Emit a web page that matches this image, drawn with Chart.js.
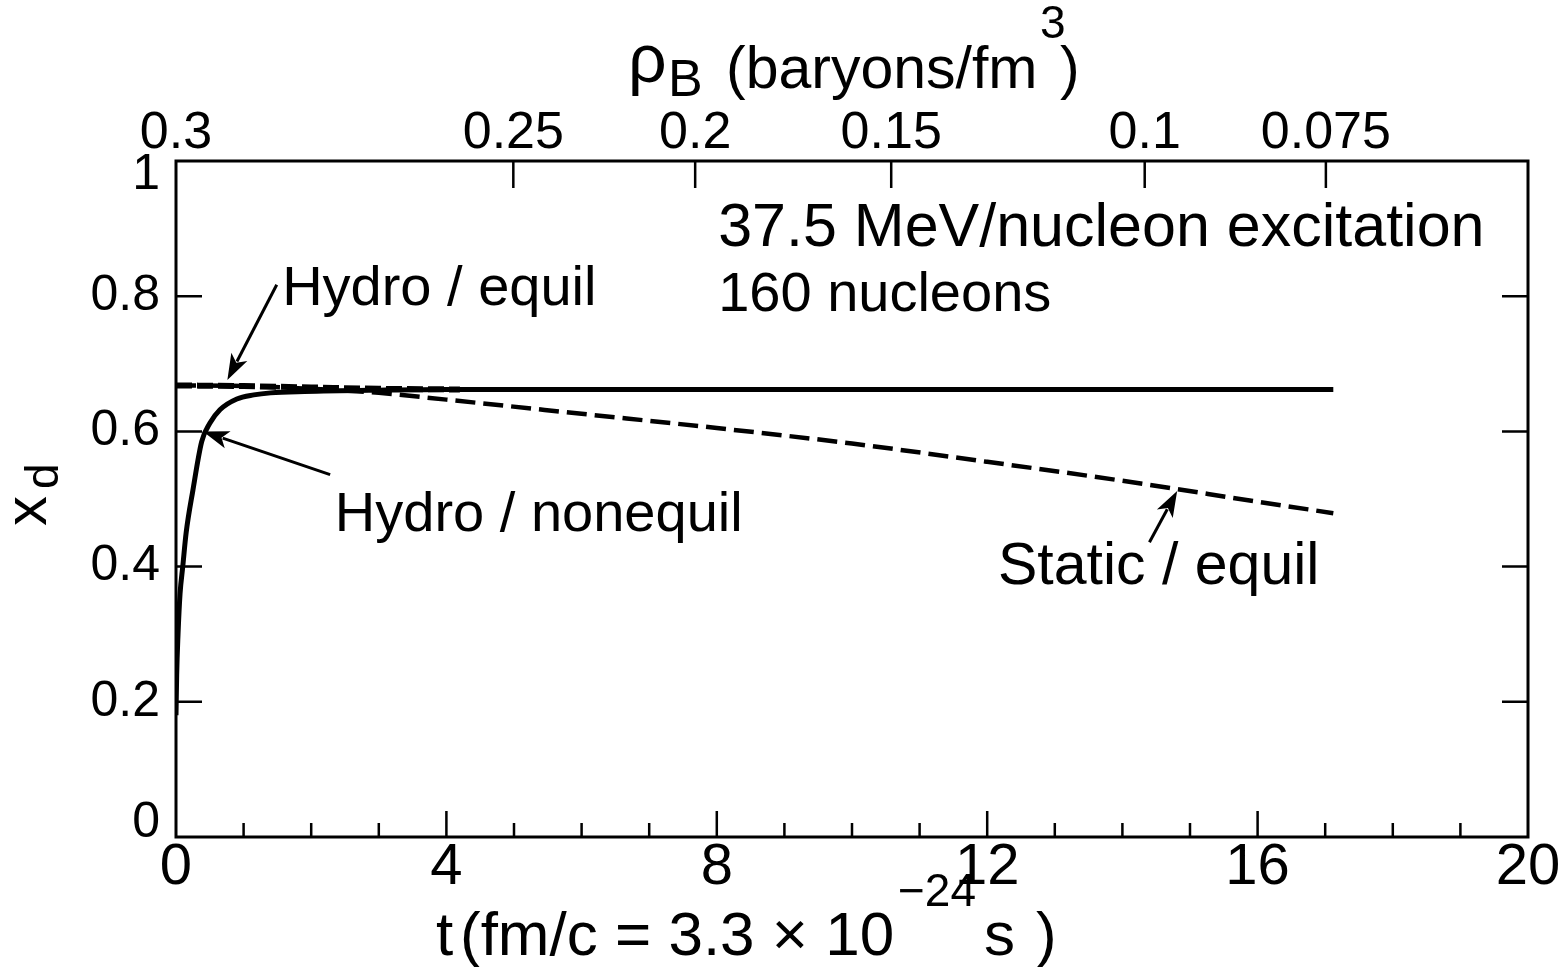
<!DOCTYPE html>
<html>
<head>
<meta charset="utf-8">
<script src="https://cdn.jsdelivr.net/npm/chart.js@4.4.1/dist/chart.umd.min.js"></script>
<style>
html, body { margin: 0; padding: 0; background: #fff; }
</style>
</head>
<body>
<canvas id="chart" width="1562" height="967"></canvas>
<script>
// time axis t (fm/c) and x_d values
const nonequilT = [0, 0.01, 0.03, 0.06, 0.1, 0.15, 0.25, 0.38, 0.5, 0.65, 0.9, 1.15, 1.4, 1.9, 3, 4, 8, 12, 17.12];
const nonequilX = [0.18, 0.24, 0.30, 0.36, 0.40, 0.45, 0.513, 0.585, 0.612, 0.632, 0.648, 0.654, 0.657, 0.659, 0.661, 0.662, 0.662, 0.662, 0.662];

const equilT = [0, 1, 2, 3, 4.2];
const equilX = [0.668, 0.667, 0.665, 0.663, 0.662];

const staticT = [0, 1, 2, 3, 4, 6, 8, 10, 12, 14, 16, 17.12];
const staticX = [0.668, 0.667, 0.663, 0.657, 0.647, 0.626, 0.605, 0.582, 0.555, 0.527, 0.496, 0.479];

// axis ticks
const tMajor = [0, 4, 8, 12, 16, 20];
const yTicks = [0, 0.2, 0.4, 0.6, 0.8, 1];
const yLabels = ["0", "0.2", "0.4", "0.6", "0.8", "1"];
const rhoTickT = [0, 4.99, 7.68, 10.58, 14.33, 17.01];
const rhoLabels = ["0.3", "0.25", "0.2", "0.15", "0.1", "0.075"];

const FONT = '"Liberation Sans", Arial, sans-serif';

const toPoints = (ts, xs) => ts.map((t, i) => ({ x: t, y: xs[i] }));

function drawArrow(ctx, x1, y1, x2, y2) {
    const ang = Math.atan2(y2 - y1, x2 - x1);
    const len = 26, half = 9;
    ctx.beginPath();
    ctx.moveTo(x1, y1);
    ctx.lineTo(x2 - Math.cos(ang) * len * 0.8, y2 - Math.sin(ang) * len * 0.8);
    ctx.stroke();
    ctx.beginPath();
    ctx.moveTo(x2, y2);
    ctx.lineTo(x2 - Math.cos(ang) * len - Math.sin(ang) * half, y2 - Math.sin(ang) * len + Math.cos(ang) * half);
    ctx.lineTo(x2 - Math.cos(ang) * len * 0.75, y2 - Math.sin(ang) * len * 0.75);
    ctx.lineTo(x2 - Math.cos(ang) * len + Math.sin(ang) * half, y2 - Math.sin(ang) * len - Math.cos(ang) * half);
    ctx.closePath();
    ctx.fill();
}

// text runs: [text, size, x, baseline]
function drawRuns(ctx, runs) {
    runs.forEach(([text, size, x, y]) => {
        ctx.font = size + "px " + FONT;
        ctx.fillText(text, x, y);
    });
}

const notes = [
    { text: "37.5 MeV/nucleon excitation", t: 8.02, v: 0.899, size: 61 },
    { text: "160 nucleons", t: 8.02, v: 0.801, size: 56 },
    { text: "Hydro / equil", t: 1.57, v: 0.810, size: 56 },
    { text: "Hydro / nonequil", t: 2.35, v: 0.476, size: 56 },
    { text: "Static / equil", t: 12.16, v: 0.398, size: 59 },
];
const arrows = [
    [1.49, 0.817, 0.76, 0.676],
    [2.28, 0.536, 0.40, 0.600],
    [14.40, 0.436, 14.81, 0.512],
];

const decorations = {
    id: "decorations",
    afterDatasetsDraw(chart) {
        const { ctx, chartArea: a, scales } = chart;
        const sx = scales.x, sy = scales.y, st = scales.x2;
        ctx.save();
        ctx.strokeStyle = "#000";
        ctx.fillStyle = "#000";

        // frame
        ctx.lineWidth = 3;
        ctx.strokeRect(a.left, a.top, a.right - a.left, a.bottom - a.top);

        // inward ticks
        ctx.lineWidth = 2.5;
        ctx.beginPath();
        for (let t = 1; t < 20; t++) {
            const px = sx.getPixelForValue(t);
            const len = t % 4 === 0 ? 26 : 14;
            ctx.moveTo(px, a.bottom);
            ctx.lineTo(px, a.bottom - len);
        }
        rhoTickT.slice(1).forEach((t) => {
            const px = st.getPixelForValue(t);
            ctx.moveTo(px, a.top);
            ctx.lineTo(px, a.top + 27);
        });
        yTicks.slice(1, -1).forEach((v) => {
            const py = sy.getPixelForValue(v);
            ctx.moveTo(a.left, py);
            ctx.lineTo(a.left + 26, py);
            ctx.moveTo(a.right, py);
            ctx.lineTo(a.right - 26, py);
        });
        ctx.stroke();

        // left tick labels (end labels sit a little inside the frame)
        ctx.font = "50px " + FONT;
        ctx.textAlign = "right";
        ctx.textBaseline = "middle";
        yTicks.forEach((v, i) => {
            let py = sy.getPixelForValue(v);
            if (i === 0) py -= 14;
            if (i === yTicks.length - 1) py += 14;
            ctx.fillText(yLabels[i], a.left - 16, py);
        });

        // labels inside the plot
        ctx.textAlign = "left";
        notes.forEach((n) => {
            ctx.font = n.size + "px " + FONT;
            ctx.fillText(n.text, sx.getPixelForValue(n.t), sy.getPixelForValue(n.v));
        });

        ctx.lineWidth = 3;
        arrows.forEach(([t1, v1, t2, v2]) => {
            drawArrow(ctx, sx.getPixelForValue(t1), sy.getPixelForValue(v1),
                sx.getPixelForValue(t2), sy.getPixelForValue(v2));
        });

        // axis titles
        ctx.textBaseline = "alphabetic";
        drawRuns(ctx, [
            ["\u03C1", 68, 628, 82],
            ["B", 52, 668, 96],
            ["(baryons/fm", 59, 726, 88],
            ["3", 46, 1040, 38],
            [")", 59, 1060, 88],
        ]);
        drawRuns(ctx, [
            ["t", 62, 436, 955],
            ["(fm/c = 3.3 \u00D7 10", 62, 460, 955],
            ["\u221224", 46, 898, 906],
            ["s", 62, 984, 955],
            [")", 62, 1036, 955],
        ]);

        ctx.translate(46, 526);
        ctx.rotate(-Math.PI / 2);
        ctx.font = "60px " + FONT;
        ctx.fillText("x", 0, 0);
        const w = ctx.measureText("x").width;
        ctx.font = "46px " + FONT;
        ctx.fillText("d", w + 7, 12);
        ctx.restore();
    },
};

const tickFont = (size) => ({ family: FONT, size: size });

new Chart(document.getElementById("chart"), {
    type: "line",
    data: {
        datasets: [
            {
                label: "Hydro/nonequil",
                data: toPoints(nonequilT, nonequilX),
                borderColor: "#000",
                borderWidth: 5,
                pointRadius: 0,
                cubicInterpolationMode: "monotone",
            },
            {
                label: "Hydro/equil",
                data: toPoints(equilT, equilX),
                borderColor: "#000",
                borderWidth: 6,
                borderDash: [16, 5],
                pointRadius: 0,
                cubicInterpolationMode: "monotone",
            },
            {
                label: "Static/equil",
                data: toPoints(staticT, staticX),
                borderColor: "#000",
                borderWidth: 4.5,
                borderDash: [20, 8],
                pointRadius: 0,
                cubicInterpolationMode: "monotone",
            },
        ],
    },
    options: {
        responsive: false,
        animation: false,
        devicePixelRatio: 1,
        layout: { padding: 0 },
        plugins: {
            legend: { display: false },
            tooltip: { enabled: false },
        },
        scales: {
            x: {
                type: "linear",
                position: "bottom",
                min: 0,
                max: 20,
                afterBuildTicks: (s) => { s.ticks = tMajor.map((v) => ({ value: v })); },
                afterFit: (s) => { s.height = 130; },
                grid: { display: false, drawTicks: false },
                border: { display: false },
                ticks: { autoSkip: false, maxRotation: 0, padding: -4, color: "#000", font: tickFont(58), callback: (v) => String(v) },
            },
            x2: {
                type: "linear",
                position: "top",
                min: 0,
                max: 20,
                afterBuildTicks: (s) => { s.ticks = rhoTickT.map((v) => ({ value: v })); },
                afterFit: (s) => { s.height = 161; },
                grid: { display: false, drawTicks: false },
                border: { display: false },
                ticks: { autoSkip: false, maxRotation: 0, padding: -4, color: "#000", font: tickFont(52), callback: (v, i) => rhoLabels[i] },
            },
            y: {
                position: "left",
                min: 0,
                max: 1,
                afterBuildTicks: (s) => { s.ticks = yTicks.map((v) => ({ value: v })); },
                afterFit: (s) => { s.width = 176; },
                grid: { display: false, drawTicks: false },
                border: { display: false },
                ticks: { display: false },
            },
            y2: {
                position: "right",
                min: 0,
                max: 1,
                afterFit: (s) => { s.width = 34; },
                grid: { display: false, drawTicks: false },
                border: { display: false },
                ticks: { display: false },
            },
        },
    },
    plugins: [decorations],
});
</script>
</body>
</html>
